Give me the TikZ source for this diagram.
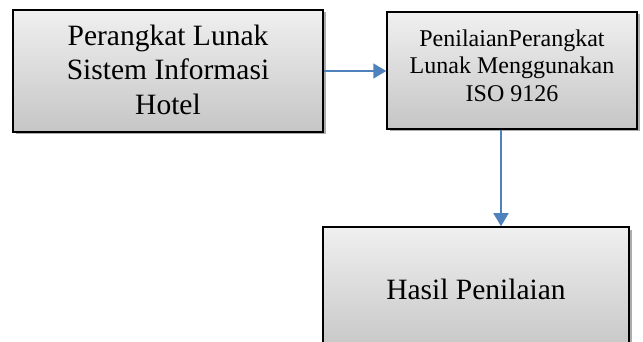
\documentclass[tikz,border=0pt]{standalone}
\usepackage{fontspec}
\setmainfont{Liberation Serif}
\usetikzlibrary{arrows.meta,positioning,shadows}

\begin{document}
\begin{tikzpicture}[
    x=1pt, y=-1pt,
    >={Triangle[length=13pt,width=15pt]},
    box/.style={
        draw=black,
        line width=1.5pt,
        align=center,
        top color=gray!12,
        bottom color=gray!45,
        inner sep=2pt,
        drop shadow={shadow xshift=2.5pt, shadow yshift=-2.5pt,
            fill=gray!65, opacity=1}
    },
    bigtext/.style={
        font=\fontsize{29.5}{34.5}\selectfont
    },
    smalltext/.style={
        font=\fontsize{24}{27.5}\selectfont
    },
    arrow/.style={
        ->,
        line width=1.6pt,
        draw={rgb,255:red,79;green,129;blue,189},
        fill={rgb,255:red,79;green,129;blue,189}
    }
]

% ---------------------------------------------------------
% Canvas
% ---------------------------------------------------------
\path[use as bounding box] (0,0) rectangle (643,342);

% ---------------------------------------------------------
% Boxes
% ---------------------------------------------------------
\node[box, bigtext, text depth=3pt,
      minimum width=310pt, minimum height=122pt]
    (software) at (168,71)
    {Perangkat Lunak\\Sistem Informasi\\Hotel};

\node[box, smalltext, text depth=10pt,
      minimum width=250pt, minimum height=117pt]
    (assess) at (512,70.5)
    {PenilaianPerangkat\\Lunak Menggunakan\\ISO 9126};

\node[box, bigtext, text depth=1pt,
      minimum width=306pt, minimum height=126pt]
    (result) at (476,290)
    {Hasil Penilaian};

% ---------------------------------------------------------
% Connectors
% ---------------------------------------------------------
\coordinate (drop) at (501,0);

\draw[arrow] (software.east) -- (software.east -| assess.west);
\draw[arrow] (drop |- assess.south) -- (drop |- result.north);

\end{tikzpicture}
\end{document}
